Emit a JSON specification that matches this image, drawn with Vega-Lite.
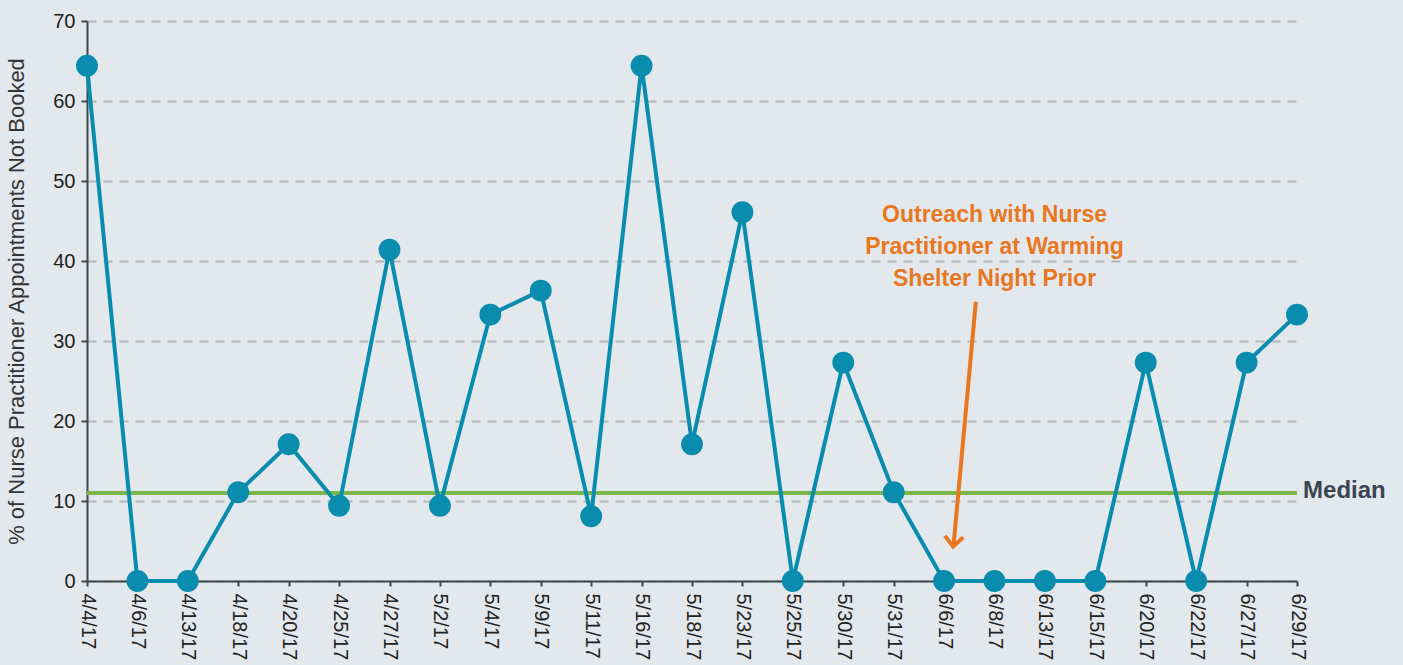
{
  "$schema": "https://vega.github.io/schema/vega-lite/v6.json",
  "autosize": "none",
  "width": 1210,
  "height": 560,
  "padding": {"left": 87, "top": 21, "right": 106, "bottom": 84},
  "background": "#e3e8ec",
  "config": {
    "view": {"stroke": null},
    "font": "Liberation Sans"
  },
  "resolve": {"scale": {"x": "independent"}},
  "layer": [
    {
      "data": {"values": [
        {"date": "4/4/17", "pct": 64.4},
        {"date": "4/6/17", "pct": 0},
        {"date": "4/13/17", "pct": 0},
        {"date": "4/18/17", "pct": 11.1},
        {"date": "4/20/17", "pct": 17.1},
        {"date": "4/25/17", "pct": 9.4},
        {"date": "4/27/17", "pct": 41.4},
        {"date": "5/2/17", "pct": 9.4},
        {"date": "5/4/17", "pct": 33.3},
        {"date": "5/9/17", "pct": 36.3},
        {"date": "5/11/17", "pct": 8.1},
        {"date": "5/16/17", "pct": 64.4},
        {"date": "5/18/17", "pct": 17.1},
        {"date": "5/23/17", "pct": 46.1},
        {"date": "5/25/17", "pct": 0},
        {"date": "5/30/17", "pct": 27.3},
        {"date": "5/31/17", "pct": 11.1},
        {"date": "6/6/17", "pct": 0},
        {"date": "6/8/17", "pct": 0},
        {"date": "6/13/17", "pct": 0},
        {"date": "6/15/17", "pct": 0},
        {"date": "6/20/17", "pct": 27.3},
        {"date": "6/22/17", "pct": 0},
        {"date": "6/27/17", "pct": 27.3},
        {"date": "6/29/17", "pct": 33.3}
      ]},
      "encoding": {
        "x": {
          "field": "date", "type": "ordinal", "sort": null,
          "scale": {"type": "point", "padding": 0},
          "axis": {
            "title": null, "labelAngle": 90, "labelAlign": "left", "labelBaseline": "middle",
            "labelFontSize": 20, "labelColor": "#222222", "labelPadding": 7,
            "domainColor": "#3c4650", "domainWidth": 2, "tickColor": "#3c4650", "tickWidth": 2, "tickSize": 5,
            "grid": false
          }
        },
        "y": {
          "field": "pct", "type": "quantitative",
          "scale": {"domain": [0, 70], "nice": false},
          "axis": {
            "values": [0, 10, 20, 30, 40, 50, 60, 70],
            "title": "% of Nurse Practitioner Appointments Not Booked",
            "titleFontSize": 22, "titleFontWeight": "normal", "titleColor": "#333333", "titlePadding": 24,
            "labelFontSize": 20, "labelColor": "#222222", "labelPadding": 6,
            "domainColor": "#3c4650", "domainWidth": 2, "tickColor": "#3c4650", "tickWidth": 2, "tickSize": 6,
            "grid": true, "gridColor": "#b4b7ba", "gridDash": [9, 7], "gridWidth": 2
          }
        }
      },
      "layer": [
        {
          "mark": {"type": "rule", "color": "#7ab648", "strokeWidth": 4},
          "encoding": {"x": null, "y": {"datum": 11}}
        },
        {"mark": {"type": "line", "color": "#0a8caf", "strokeWidth": 4}},
        {"mark": {"type": "point", "filled": true, "opacity": 1, "color": "#0a8caf", "size": 480}}
      ]
    },
    {
      "layer": [
        {
          "data": {"values": [
            {"x": 18.0, "y": 45.7, "label": "Outreach with Nurse"},
            {"x": 18.0, "y": 41.7, "label": "Practitioner at Warming"},
            {"x": 18.0, "y": 37.7, "label": "Shelter Night Prior"}
          ]},
          "mark": {"type": "text", "fontWeight": "bold", "fontSize": 23, "color": "#e87722", "align": "center", "baseline": "middle"},
          "encoding": {
            "x": {"field": "x", "type": "quantitative", "scale": {"domain": [0, 24], "nice": false, "zero": false}, "axis": null},
            "y": {"field": "y", "type": "quantitative"},
            "text": {"field": "label"}
          }
        },
        {
          "data": {"values": [{"x": 17.63, "y": 34.9, "x2": 17.19, "y2": 4.6}]},
          "mark": {"type": "rule", "color": "#e87722", "strokeWidth": 4},
          "encoding": {
            "x": {"field": "x", "type": "quantitative", "scale": {"domain": [0, 24], "nice": false, "zero": false}, "axis": null},
            "y": {"field": "y", "type": "quantitative"},
            "x2": {"field": "x2"},
            "y2": {"field": "y2"}
          }
        },
        {
          "data": {"values": [{"x": 17.18, "y": 4.3}]},
          "mark": {"type": "point", "shape": "M-1,-1.1L0,0L1,-1.1", "filled": false, "stroke": "#e87722", "strokeWidth": 4, "size": 340, "angle": 5, "opacity": 1},
          "encoding": {
            "x": {"field": "x", "type": "quantitative", "scale": {"domain": [0, 24], "nice": false, "zero": false}, "axis": null},
            "y": {"field": "y", "type": "quantitative"}
          }
        },
        {
          "data": {"values": [{"x": 24.12, "y": 11.2, "label": "Median"}]},
          "mark": {"type": "text", "fontWeight": "bold", "fontSize": 24, "color": "#3a4550", "align": "left", "baseline": "middle"},
          "encoding": {
            "x": {"field": "x", "type": "quantitative", "scale": {"domain": [0, 24], "nice": false, "zero": false}, "axis": null},
            "y": {"field": "y", "type": "quantitative"},
            "text": {"field": "label"}
          }
        }
      ]
    }
  ]
}
